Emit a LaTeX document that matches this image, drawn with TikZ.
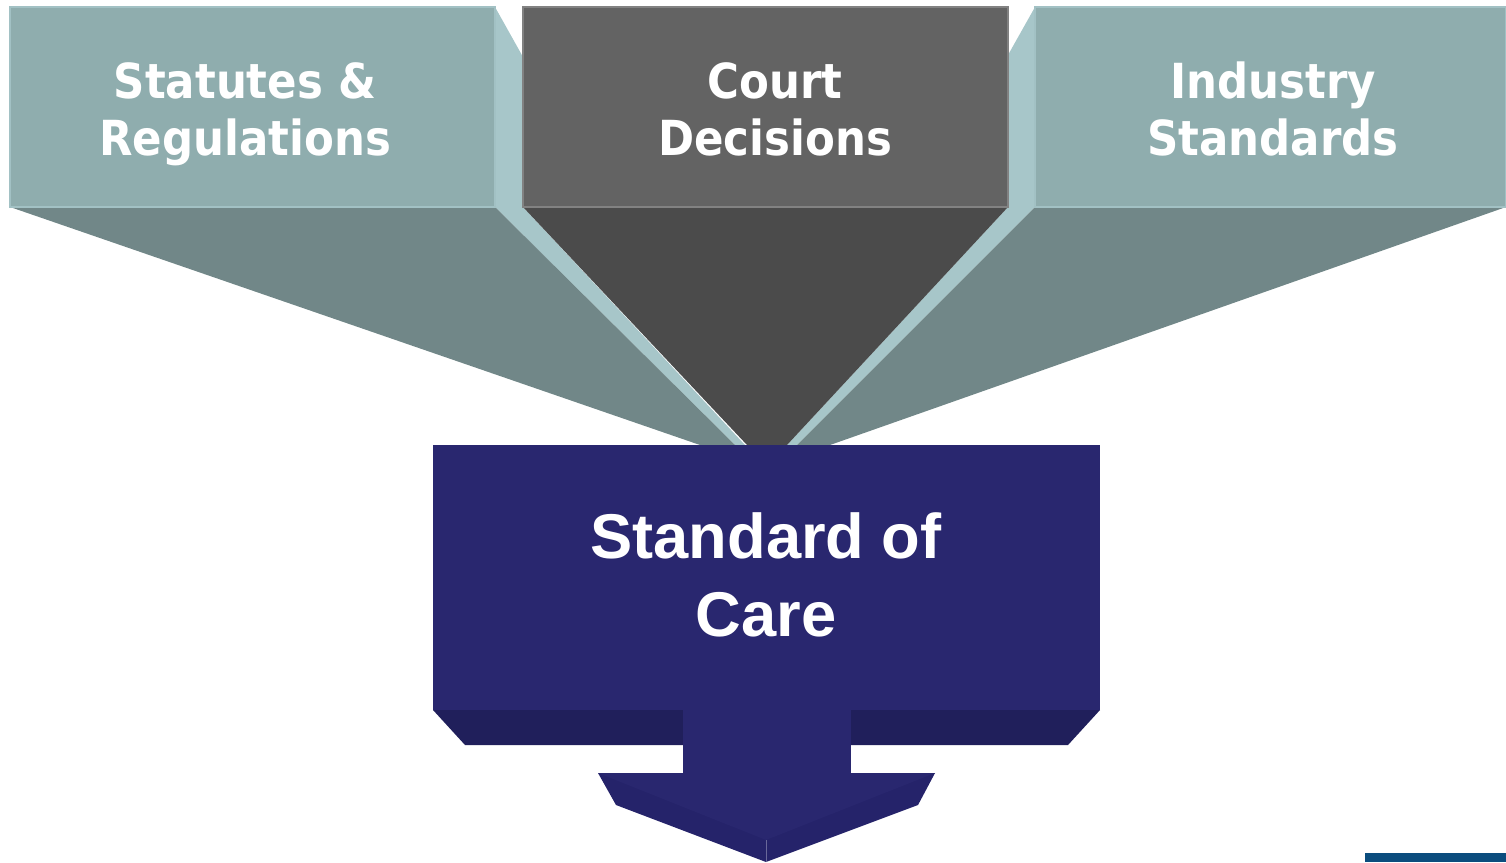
\documentclass[tikz,border=0pt]{standalone}
\usepackage{fontspec}
\usepackage{tikz}
\usepackage{xcolor}
\newfontfamily\headfont[FakeStretch=0.9]{DejaVu Sans}
\newfontfamily\carefont{Liberation Sans}
\definecolor{sourcegrey}{HTML}{8FADAE}
\definecolor{sourcefunnel}{HTML}{718788}
\definecolor{sidelight}{HTML}{A7C6C9}
\definecolor{courtgrey}{HTML}{636363}
\definecolor{courtfunnel}{HTML}{4B4B4B}
\definecolor{careblue}{HTML}{29276F}
\definecolor{careshadow}{HTML}{201F5B}
\definecolor{arrowside}{HTML}{25236A}
\definecolor{cornerblue}{HTML}{0B4D7E}
\tikzset{
    source-box/.style = {fill=sourcegrey, draw=sidelight!80!sourcegrey, line width=1.2pt},
    source-label/.style = {text=white, font=\headfont\bfseries\fontsize{27.5}{32.5}\selectfont, align=center},
    care-label/.style = {text=white, font=\carefont\bfseries\fontsize{36}{44}\selectfont, align=center},
}

\begin{document}
\begin{tikzpicture}[x=0.02cm, y=-0.02cm]
\useasboundingbox (0,0) rectangle (1506,862);
\fill[sidelight] (495,7) -- (523,57) -- (523,207) -- (745,445) -- (735,445) -- (495,207) -- cycle;
\fill[sidelight] (1035,7) -- (1008,55) -- (1008,207) -- (787,445) -- (797,445) -- (1035,207) -- cycle;
\fill[sourcefunnel] (10,207) -- (495,207) -- (735,445) -- (700,445) -- cycle;
\fill[sourcefunnel] (1506,207) -- (1035,207) -- (797,445) -- (830,445) -- cycle;
\fill[courtfunnel] (523,207) -- (1008,207) -- (787,445) -- (747,445) -- cycle;
\filldraw[source-box] (10,7) rectangle (495,207);
\filldraw[source-box] (1035,7) rectangle (1506,207);
\filldraw[fill=courtgrey, draw=courtgrey!80!white, line width=1pt] (523,7) rectangle (1008,207);
\node[source-label] (statutes) at (245,114) {Statutes \&\\Regulations};
\node[source-label] (court) at (775,109) {Court\\Decisions};
\node[source-label] (industry) at (1273,109) {Industry\\Standards};
\fill[careshadow] (433,710) -- (465,745) -- (683,745) -- (683,710) -- cycle;
\fill[careshadow] (851,710) -- (851,745) -- (1068,745) -- (1100,710) -- cycle;
\fill[arrowside] (598,773) -- (616,805) -- (766,862) -- (918,805) -- (935,773) -- cycle;
\fill[careblue] (598,773) -- (766,840) -- (935,773) -- cycle;
\draw[careblue!70!white, line width=0.4pt] (766,840) -- (766,862);
\fill[careblue] (683,700) rectangle (851,774);
\fill[careblue] (433,445) rectangle (1100,710);
\node[care-label] (care) at (766,575) {Standard of\\Care};
\fill[cornerblue] (1365,853) rectangle (1506,862);
\end{tikzpicture}
\end{document}
